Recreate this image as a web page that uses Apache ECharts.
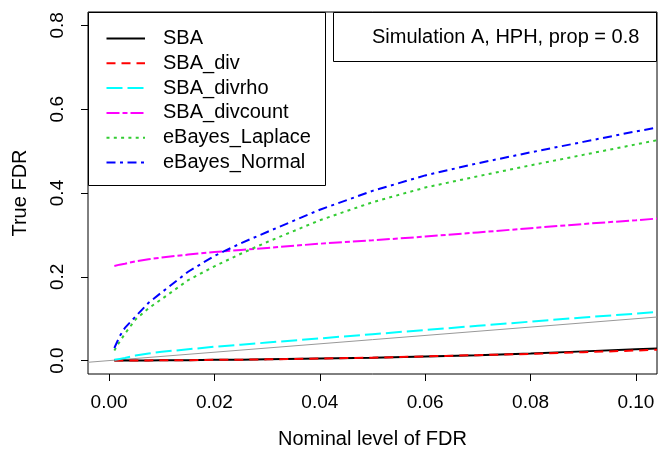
<!DOCTYPE html>
<html>
<head>
<meta charset="utf-8">
<script src="https://cdn.jsdelivr.net/npm/echarts@6/dist/echarts.min.js"></script>
<style>
  html, body { margin: 0; padding: 0; background: #fff; }
  #main { width: 661px; height: 462px; }
</style>
</head>
<body>
<div id="main"></div>
<script>
// nominal FDR levels (x) and true FDR for each method
var nominal = [0.001, 0.002, 0.003, 0.005, 0.0075, 0.01, 0.015, 0.02, 0.025, 0.03, 0.04, 0.05, 0.06, 0.07, 0.08, 0.09, 0.1, 0.104];

var sba        = [0.000, 0.000, 0.000, 0.000, 0.0005, 0.001, 0.001, 0.002, 0.002, 0.003, 0.005, 0.007, 0.010, 0.013, 0.017, 0.022, 0.027, 0.029];
var sbaDiv     = [0.000, 0.000, 0.000, 0.000, 0.0005, 0.001, 0.001, 0.002, 0.002, 0.003, 0.005, 0.007, 0.010, 0.013, 0.016, 0.020, 0.024, 0.026];
var sbaDivrho  = [0.002, 0.004, 0.006, 0.012, 0.017, 0.021, 0.027, 0.033, 0.038, 0.043, 0.053, 0.063, 0.073, 0.083, 0.093, 0.103, 0.112, 0.116];
var sbaDivcount= [0.226, 0.229, 0.231, 0.237, 0.242, 0.246, 0.253, 0.259, 0.264, 0.269, 0.279, 0.287, 0.296, 0.306, 0.316, 0.326, 0.335, 0.339];
var ebLaplace  = [0.024, 0.045, 0.064, 0.098, 0.125, 0.147, 0.192, 0.225, 0.255, 0.283, 0.335, 0.378, 0.413, 0.440, 0.466, 0.491, 0.516, 0.526];
var ebNormal   = [0.030, 0.058, 0.078, 0.105, 0.138, 0.163, 0.212, 0.250, 0.280, 0.307, 0.360, 0.405, 0.442, 0.471, 0.497, 0.522, 0.547, 0.556];

// y = x reference line ends
var refLine = [-0.004, 0.104];

var xTicks = [0, 0.02, 0.04, 0.06, 0.08, 0.1];
var yTicks = [0, 0.2, 0.4, 0.6, 0.8];

var FONT = 'Liberation Sans';

function pairs(ys) {
    return nominal.map(function (x, i) { return [x, ys[i]]; });
}

var myChart = echarts.init(document.getElementById('main'));

var methods = [
    { name: 'SBA', data: sba, color: '#000000', dash: null },
    { name: 'SBA_div', data: sbaDiv, color: '#ff0000', dash: [9, 6] },
    { name: 'SBA_divrho', data: sbaDivrho, color: '#00ffff', dash: [16, 5] },
    { name: 'SBA_divcount', data: sbaDivcount, color: '#ff00ff', dash: [13, 3, 5, 3] },
    { name: 'eBayes_Laplace', data: ebLaplace, color: '#33cc33', dash: [3, 4.3] },
    { name: 'eBayes_Normal', data: ebNormal, color: '#0000ff', dash: [9, 4.5, 3, 4.5] }
];

var series = [{
    name: 'ref',
    type: 'line',
    data: refLine.map(function (v) { return [v, v]; }),
    symbol: 'none',
    silent: true,
    lineStyle: { color: '#999999', width: 1 }
}];
methods.forEach(function (m) {
    series.push({
        name: m.name,
        type: 'line',
        data: pairs(m.data),
        symbol: 'none',
        color: m.color,
        lineStyle: { color: m.color, width: 2, type: m.dash || 'solid' }
    });
});

// legend drawn by hand so the keys keep the line dashes
var graphics = [
    {
        type: 'rect', z: 5,
        shape: { x: 88.5, y: 12.5, width: 237, height: 173 },
        style: { fill: '#fff', stroke: '#000', lineWidth: 1 }
    },
    {
        type: 'rect', z: 5,
        shape: { x: 333.5, y: 12.5, width: 323, height: 49 },
        style: { fill: '#fff', stroke: '#000', lineWidth: 1 }
    },
    {
        type: 'text', z: 6, x: 372, y: 37,
        style: {
            text: 'Simulation A, HPH, prop = 0.8',
            fontFamily: FONT, fontSize: 20, fill: '#000',
            verticalAlign: 'middle'
        }
    }
];
methods.forEach(function (m, i) {
    var cy = 38.5 + i * 24.8;
    graphics.push({
        type: 'line', z: 6,
        shape: { x1: 106.5, y1: cy, x2: 145, y2: cy },
        style: { stroke: m.color, lineWidth: 2, lineDash: m.dash }
    });
    graphics.push({
        type: 'text', z: 6, x: 163, y: cy,
        style: { text: m.name, fontFamily: FONT, fontSize: 20, fill: '#000', verticalAlign: 'middle' }
    });
});

var option = {
    animation: false,
    backgroundColor: '#fff',
    textStyle: { fontFamily: FONT },
    grid: {
        left: 88, right: 4, top: 12, bottom: 88,
        show: true, borderColor: '#000', borderWidth: 1, backgroundColor: 'transparent'
    },
    xAxis: {
        type: 'value',
        min: -0.004, max: 0.104,
        name: 'Nominal level of FDR',
        nameLocation: 'middle',
        nameGap: 55,
        nameTextStyle: { fontFamily: FONT, fontSize: 20, color: '#000' },
        axisLine: { show: false, onZero: false },
        splitLine: { show: false },
        axisTick: { show: true, length: 7, customValues: xTicks, lineStyle: { color: '#000' } },
        axisLabel: {
            customValues: xTicks, margin: 19,
            fontFamily: FONT, fontSize: 19, color: '#000',
            formatter: function (v) { return v.toFixed(2); }
        }
    },
    yAxis: {
        type: 'value',
        min: -0.032, max: 0.832,
        name: 'True FDR',
        nameLocation: 'middle',
        nameGap: 58,
        nameTextStyle: { fontFamily: FONT, fontSize: 20, color: '#000' },
        axisLine: { show: false, onZero: false },
        splitLine: { show: false },
        axisTick: { show: true, length: 7, customValues: yTicks, lineStyle: { color: '#000' } },
        axisLabel: {
            customValues: yTicks, margin: 21, rotate: 90,
            fontFamily: FONT, fontSize: 19, color: '#000',
            formatter: function (v) { return v.toFixed(1); }
        }
    },
    graphic: graphics,
    series: series
};

myChart.setOption(option);
</script>
</body>
</html>
